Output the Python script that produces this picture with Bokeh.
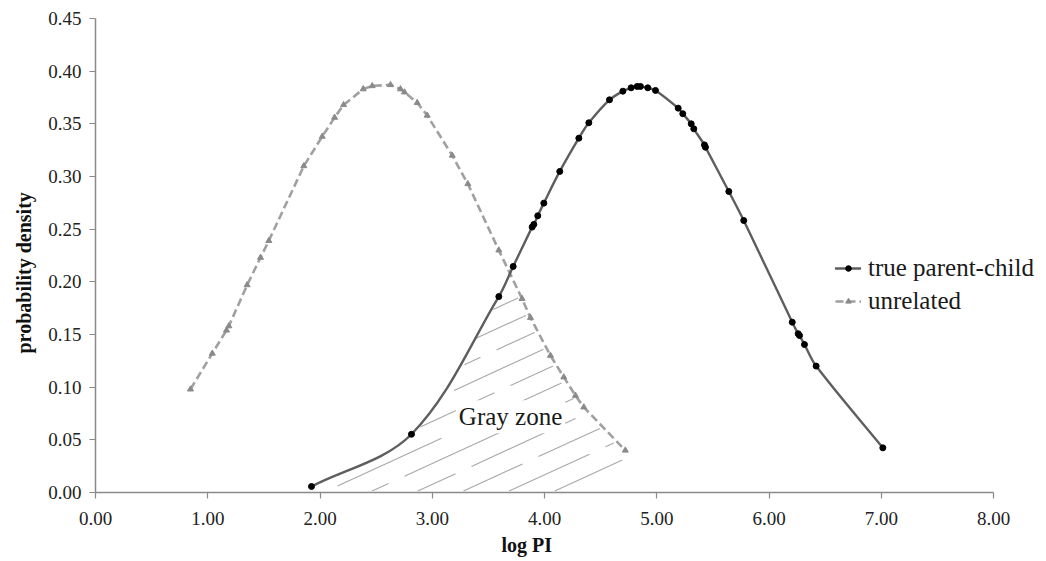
import numpy as np
from bokeh.plotting import figure
from bokeh.models import (Range1d, FixedTicker, NumeralTickFormatter, Legend,
                          LegendItem, Label, Title)
from bokeh.embed import file_html
from bokeh.resources import INLINE

# ---------------- data ----------------
true_x = [1.924, 2.815, 3.593, 3.721, 3.890, 3.905, 3.940, 3.994, 4.136, 4.306,
          4.395, 4.579, 4.698, 4.772, 4.826, 4.855, 4.920, 4.989, 5.191, 5.232,
          5.307, 5.330, 5.425, 5.434, 5.642, 5.775, 6.207, 6.260, 6.272, 6.316,
          6.420, 7.014]
true_y = [0.0057, 0.0553, 0.186, 0.2146, 0.252, 0.2545, 0.2627, 0.2747, 0.3048, 0.3364,
          0.351, 0.3728, 0.381, 0.3842, 0.3855, 0.3855, 0.3842, 0.3817, 0.3649, 0.3596,
          0.350, 0.3453, 0.330, 0.3278, 0.2858, 0.2582, 0.1617, 0.1507, 0.149, 0.1405,
          0.120, 0.0424]

unrel_x = [0.846, 1.04, 1.167, 1.188, 1.351, 1.47, 1.544, 1.856, 2.02, 2.13,
           2.21, 2.385, 2.465, 2.628, 2.717, 2.753, 2.866, 2.955, 3.178, 3.317,
           3.593, 3.80, 3.875, 4.053, 4.172, 4.276, 4.35, 4.72]
unrel_y = [0.098, 0.132, 0.154, 0.158, 0.197, 0.223, 0.239, 0.310, 0.338, 0.356,
           0.368, 0.383, 0.386, 0.387, 0.383, 0.380, 0.370, 0.358, 0.320, 0.293,
           0.230, 0.184, 0.166, 0.130, 0.1095, 0.092, 0.081, 0.040]

x_ticks = [0, 1, 2, 3, 4, 5, 6, 7, 8]
y_ticks = [0.0, 0.05, 0.10, 0.15, 0.20, 0.25, 0.30, 0.35, 0.40, 0.45]

series_names = ["true parent-child", "unrelated"]
x_title = "log PI"
y_title = "probability density"
zone_text = "Gray zone"

# ---------------- layout ----------------
W, H = 1044, 559
LEFT, TOP, BOTTOM = 95, 18, 67
XPX_TARGET = 112.25
FONT = "Liberation Serif"

frame_w = W - LEFT
frame_h = H - TOP - BOTTOM
X_END = frame_w / XPX_TARGET
XPX = frame_w / X_END
YPX = frame_h / 0.45
K = YPX / XPX


def smooth_controls(xs, ys):
    """Bezier control points for a smoothed line through the points."""
    P = np.column_stack([np.asarray(xs, float), np.asarray(ys, float) * K])
    n = len(P)
    D = np.zeros_like(P)
    for i in range(n):
        v = P[min(i + 1, n - 1)] - P[max(i - 1, 0)]
        D[i] = v / np.linalg.norm(v)
    L = np.linalg.norm(P[1:] - P[:-1], axis=1)[:, None]
    C1 = P[:-1] + D[:-1] * L / 3
    C2 = P[1:] - D[1:] * L / 3
    unscale = np.array([1.0, 1.0 / K])
    return P[:-1] * unscale, C1 * unscale, C2 * unscale, P[1:] * unscale


p = figure(width=W, height=H, x_range=Range1d(0, X_END), y_range=Range1d(0, 0.45),
           output_backend="svg", toolbar_location=None,
           min_border_left=LEFT, min_border_right=0, min_border_top=TOP,
           min_border_bottom=BOTTOM)
p.outline_line_color = None
p.grid.visible = False
p.background_fill_color = "white"

# ---------------- gray zone outline (between the two curves) ----------------
S0, C1, C2, S1 = smooth_controls(true_x, true_y)
tx = np.asarray(true_x); ty = np.asarray(true_y)
ux = np.asarray(unrel_x); uy = np.asarray(unrel_y)
above = ty > np.interp(tx, ux, uy)
ic = int(np.argmax(above))
xa, xb = tx[ic - 1], tx[ic]
ta, tb = ty[ic - 1], ty[ic]
ua, ub = np.interp(xa, ux, uy), np.interp(xb, ux, uy)
t = (ua - ta) / ((tb - ta) - (ub - ua))
xi = xa + t * (xb - xa); yi = ta + t * (tb - ta)

hx = [tx[0]]; hy = [0.0]
for i in range(ic - 1):
    hx += [S0[i, 0], C1[i, 0], C2[i, 0]]
    hy += [S0[i, 1], C1[i, 1], C2[i, 1]]
hx.append(tx[ic - 1]); hy.append(ty[ic - 1])
hx.append(xi); hy.append(yi)
mask = ux > xi
hx += list(ux[mask]); hy += list(uy[mask])
hx.append(ux[-1]); hy.append(0.0)

# hatch lines, clipped to the gray zone (computed in screen-pixel space)
PX = np.array(hx) * XPX
PY = np.array(hy) * YPX
SLOPE, STEP, C0 = 0.46, 21.0, -146.9
INSET, PERIOD, GAP = 3.0, 120.0, 16.0
cvals = PY - SLOPE * PX
seg_x0, seg_y0, seg_x1, seg_y1 = [], [], [], []
j_lo = int(np.floor((cvals.min() - C0) / STEP)) - 1
j_hi = int(np.ceil((cvals.max() - C0) / STEP)) + 1
for j in range(j_lo, j_hi + 1):
    c = C0 + j * STEP
    f = PY - SLOPE * PX - c
    xs_hit = []
    n = len(PX)
    for e in range(n):
        f1, f2 = f[e], f[(e + 1) % n]
        if (f1 > 0) != (f2 > 0):
            tt = f1 / (f1 - f2)
            xs_hit.append(PX[e] + tt * (PX[(e + 1) % n] - PX[e]))
    xs_hit.sort()
    phase = (j * 53.0) % PERIOD
    for a, b in zip(xs_hit[0::2], xs_hit[1::2]):
        a += INSET; b -= INSET
        if b - a < 4:
            continue
        pieces = []
        start = a
        n0 = int(np.floor((a - phase) / PERIOD)) - 1
        for m in range(n0, n0 + 20):
            g0 = phase + m * PERIOD
            g1 = g0 + GAP
            if g1 <= start:
                continue
            if g0 >= b:
                break
            if g0 > start:
                pieces.append((start, g0))
            start = max(start, g1)
        if start < b:
            pieces.append((start, b))
        for s0, s1 in pieces:
            if s1 - s0 < 4:
                continue
            seg_x0.append(s0 / XPX); seg_y0.append((SLOPE * s0 + c) / YPX)
            seg_x1.append(s1 / XPX); seg_y1.append((SLOPE * s1 + c) / YPX)

p.segment(seg_x0, seg_y0, seg_x1, seg_y1, line_color="#a8a8a8", line_width=1.1)

zone = Label(x=3.21, y=0.072, text=zone_text, text_font=FONT,
             text_font_size="25px", text_color="#1a1a1a",
             text_baseline="alphabetic", background_fill_color="white",
             padding=3)
p.add_layout(zone)

# ---------------- series ----------------
r_un_line = p.line(unrel_x, unrel_y, line_color="#a0a0a0", line_width=2.6,
                   line_dash="8 4")
r_un_pts = p.scatter(unrel_x, unrel_y, marker="triangle", size=6,
                     fill_color="#8a8a8a", line_color="#8a8a8a")

r_tr_line = p.bezier(x0=S0[:, 0], y0=S0[:, 1], x1=S1[:, 0], y1=S1[:, 1],
                     cx0=C1[:, 0], cy0=C1[:, 1], cx1=C2[:, 0], cy1=C2[:, 1],
                     line_color="#5e5e5e", line_width=2.4, line_cap="round")
r_tr_pts = p.scatter(true_x, true_y, marker="circle", size=6,
                     fill_color="black", line_color="black")

# ---------------- axes ----------------
for ax in (p.xaxis[0], p.yaxis[0]):
    ax.axis_line_color = "#8a8a8a"
    ax.axis_line_width = 1.5
    ax.major_tick_line_color = "#8a8a8a"
    ax.major_tick_line_width = 1.2
    ax.major_tick_out = 6
    ax.major_tick_in = 0
    ax.minor_tick_line_color = None
    ax.major_label_text_font = FONT
    ax.major_label_text_font_size = "19px"
    ax.major_label_text_color = "#222222"
    ax.formatter = NumeralTickFormatter(format="0.00")

p.xaxis.ticker = FixedTicker(ticks=x_ticks)
p.yaxis.ticker = FixedTicker(ticks=y_ticks)
p.xaxis.bounds = (x_ticks[0], x_ticks[-1])
p.xaxis.major_label_standoff = 13
p.yaxis.major_label_standoff = 8

# axis titles as side-panel titles so they can be offset like the reference
p.add_layout(Title(text=x_title, align="left", offset=406, standoff=8,
                   text_font=FONT, text_font_style="bold",
                   text_font_size="20px", text_color="#111111"), "below")
p.add_layout(Title(text=y_title, align="left", offset=139, standoff=21,
                   text_font=FONT, text_font_style="bold",
                   text_font_size="20px", text_color="#111111"), "left")

# ---------------- legend ----------------
legend = Legend(items=[LegendItem(label=series_names[0], renderers=[r_tr_line, r_tr_pts]),
                       LegendItem(label=series_names[1], renderers=[r_un_line, r_un_pts])],
                location=(740, 176), orientation="vertical",
                label_text_font=FONT, label_text_font_size="25px",
                label_text_color="#1a1a1a", glyph_width=26, glyph_height=14,
                label_height=30, label_standoff=7, spacing=3, padding=0,
                margin=0, border_line_color=None, background_fill_alpha=0)
p.add_layout(legend)

open("out.html", "w").write(file_html(p, INLINE))
